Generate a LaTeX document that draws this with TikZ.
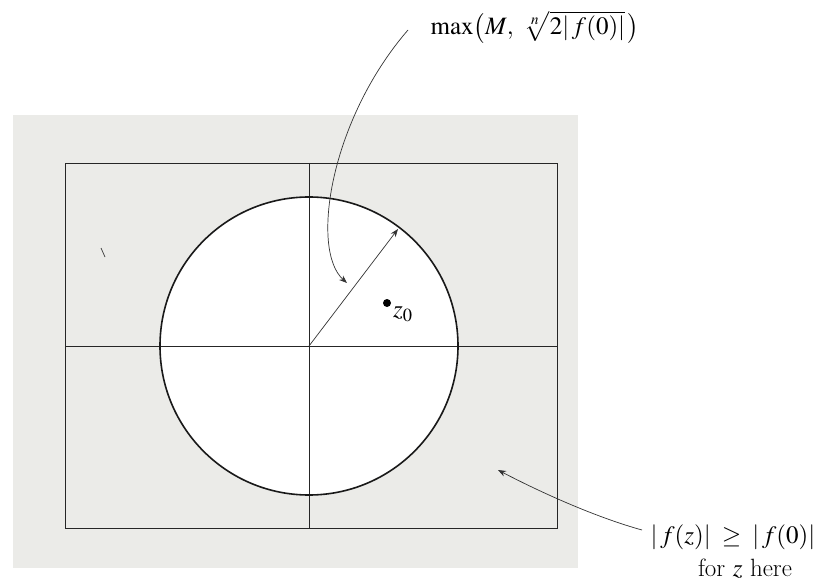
\documentclass[tikz,border=0pt]{standalone}
\usepackage{mathptmx}
\usetikzlibrary{arrows.meta}
\definecolor{bggray}{HTML}{EBEBE8}
\tikzset{
  axisline/.style={line width=0.7pt, black!85},
  circline/.style={line width=1.6pt, black!90},
  pointer/.style={line width=0.7pt, black!80, -{Stealth[length=8pt,width=6pt]}},
  lbl/.style={font=\fontsize{25}{29}\selectfont, inner sep=0pt},
}
\begin{document}
\begin{tikzpicture}[x=1pt,y=-1pt]
\useasboundingbox (0,0) rectangle (823,583);
% shaded background
\fill[bggray] (13,115) rectangle (578,568);
% box
\draw[axisline] (65,163) rectangle (557,528);
% disc
\coordinate (o) at (309,346);
\fill[white] (o) circle[radius=149];
% axes
\draw[axisline] (65,346) -- (557,346);
\draw[axisline] (309,163) -- (309,528);
\draw[circline] (o) circle[radius=149];
% radius arrow
\coordinate (rim) at (398,229);
\draw[pointer] (o) -- (rim);
% stray mark
\draw[line width=0.8pt, black!70] (101,248) -- (105,257);
% z0
\node[circle, fill=black, inner sep=0pt, minimum size=8pt] (z0) at (387,303) {};
\node[lbl, anchor=west] (z0l) at (393,314) {$z_0$};
% labels
\node[lbl] (maxl) at (535,27) {$\max\bigl(M,\ \sqrt[n]{2|\,f(0)|}\,\bigr)$};
\node[lbl] (ineq) at (733,537) {$|\,f(z)|\;\geq\;|\,f(0)|$};
\node[lbl] (here) at (745,569) {for $z$ here};
\coordinate (s1) at (408,30);
\coordinate (t1) at (347,283);
\coordinate (s2) at (642,530);
\coordinate (t2) at (498,470);
\draw[pointer] (s1) .. controls (330,120) and (310,250) .. (t1);
\draw[pointer] (s2) .. controls (595,517) and (540,492) .. (t2);
\end{tikzpicture}
\end{document}
